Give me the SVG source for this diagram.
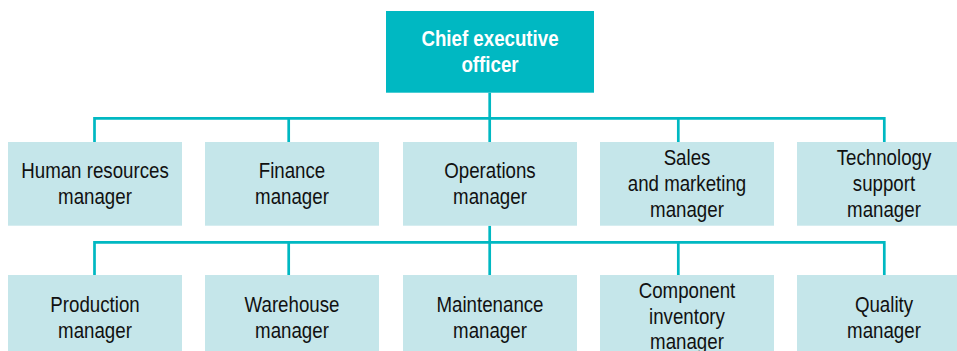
<svg xmlns="http://www.w3.org/2000/svg" width="957" height="351" viewBox="0 0 957 351">
<style>
.box{fill:#c5e6ea}
.top{fill:#00b8c2}
.t{font-family:"Liberation Sans",Arial,sans-serif;font-size:22px;fill:#111;text-anchor:middle}
.tw{font-family:"Liberation Sans",Arial,sans-serif;font-size:22px;font-weight:bold;fill:#fff;text-anchor:middle}
.ln{stroke:#00b8c2;stroke-width:2.7;fill:none}
</style>
<rect width="957" height="351" fill="#fff"/>
<g id="connectors">
<path class="ln" d="M489.7 92.7V142M94.5 142V118.3H884.3V142M288.7 118.3V142M678.3 118.3V142"/>
<path class="ln" d="M489.7 225.7V275M94.5 275V242.3H884.3V275M288.7 242.3V275M678.3 242.3V275"/>
</g>
<g id="ceo"><rect class="top" x="386" y="11" width="208" height="81.7"/>
<g transform="translate(490 0) scale(0.85 1)"><text class="tw" x="0" y="45.7">Chief executive</text><text class="tw" x="0" y="72.3">officer</text></g></g>
<g id="hr"><rect class="box" x="8" y="142" width="174" height="83.7"/>
<g transform="translate(95 0) scale(0.85 1)"><text class="t" x="0" y="178.5">Human resources</text><text class="t" x="0" y="204.5">manager</text></g></g>
<g id="finance"><rect class="box" x="205" y="142" width="174" height="83.7"/>
<g transform="translate(292 0) scale(0.85 1)"><text class="t" x="0" y="178.5">Finance</text><text class="t" x="0" y="204.5">manager</text></g></g>
<g id="operations"><rect class="box" x="403" y="142" width="174" height="83.7"/>
<g transform="translate(490 0) scale(0.85 1)"><text class="t" x="0" y="178.5">Operations</text><text class="t" x="0" y="204.5">manager</text></g></g>
<g id="sales"><rect class="box" x="600" y="142" width="174" height="83.7"/>
<g transform="translate(687 0) scale(0.85 1)"><text class="t" x="0" y="165.3">Sales</text><text class="t" x="0" y="191.3">and marketing</text><text class="t" x="0" y="217.3">manager</text></g></g>
<g id="technology"><rect class="box" x="797" y="142" width="174" height="83.7"/>
<g transform="translate(884 0) scale(0.85 1)"><text class="t" x="0" y="165.3">Technology</text><text class="t" x="0" y="191.3">support</text><text class="t" x="0" y="217.3">manager</text></g></g>
<g id="production"><rect class="box" x="8" y="275" width="174" height="83.7"/>
<g transform="translate(95 0) scale(0.85 1)"><text class="t" x="0" y="311.7">Production</text><text class="t" x="0" y="337.7">manager</text></g></g>
<g id="warehouse"><rect class="box" x="205" y="275" width="174" height="83.7"/>
<g transform="translate(292 0) scale(0.85 1)"><text class="t" x="0" y="311.7">Warehouse</text><text class="t" x="0" y="337.7">manager</text></g></g>
<g id="maintenance"><rect class="box" x="403" y="275" width="174" height="83.7"/>
<g transform="translate(490 0) scale(0.85 1)"><text class="t" x="0" y="311.7">Maintenance</text><text class="t" x="0" y="337.7">manager</text></g></g>
<g id="component"><rect class="box" x="600" y="275" width="174" height="83.7"/>
<g transform="translate(687 0) scale(0.85 1)"><text class="t" x="0" y="298">Component</text><text class="t" x="0" y="323.7">inventory</text><text class="t" x="0" y="349.5">manager</text></g></g>
<g id="quality"><rect class="box" x="797" y="275" width="174" height="83.7"/>
<g transform="translate(884 0) scale(0.85 1)"><text class="t" x="0" y="311.7">Quality</text><text class="t" x="0" y="337.7">manager</text></g></g>
</svg>
